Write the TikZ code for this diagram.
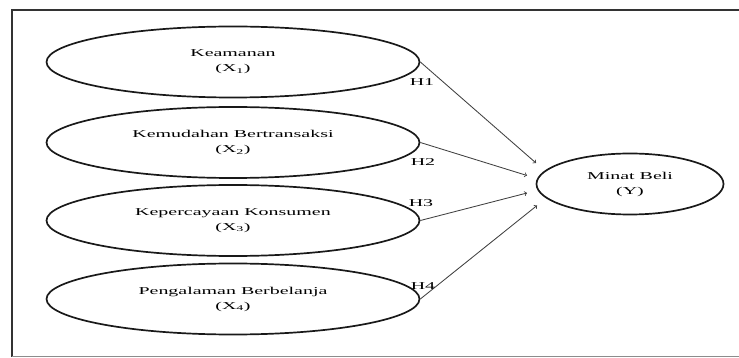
\documentclass[tikz,border=0pt]{standalone}
\usepackage{fontspec}
\setmainfont[FakeStretch=1.9]{Liberation Serif}
\usepackage{tikz}
\usetikzlibrary{shapes.geometric}
\tikzset{%
    variabel/.style={%
        ellipse, draw=black!90, line width=1.7pt, inner sep=0pt,
        minimum width=373pt, minimum height=71pt,
        align=center, text=black,
        font=\fontsize{10.5}{15}\selectfont
    },
    panah/.style={->, line width=0.85pt, draw=black!75},
    hipotesis/.style={inner sep=0pt, text=black,
        font=\fontsize{10.5}{12}\selectfont}
}

\begin{document}
\begin{tikzpicture}[x=1pt,y=-1pt]
    \useasboundingbox (0,0) rectangle (739,358);
    % bingkai
    \draw[line width=2.4pt,black!80] (745,10) -- (12,10) -- (12,357);
    \draw[line width=1.6pt,black!45] (12,356.5) -- (745,356.5);
    % variabel
    \node[variabel] (x1) at (233,62) {Keamanan\\(X\textsubscript{1})};
    \node[variabel] (x2) at (233,142.5) {Kemudahan Bertransaksi\\(X\textsubscript{2})};
    \node[variabel] (x3) at (233,220.5) {Kepercayaan Konsumen\\(X\textsubscript{3})};
    \node[variabel] (x4) at (233,299) {Pengalaman Berbelanja\\(X\textsubscript{4})};
    \node[variabel,minimum width=187pt,minimum height=61pt] (y) at (630,184) {Minat Beli\\(Y)};
    \coordinate (u1) at (536,163);
    \coordinate (u2) at (527,175.5);
    \coordinate (u3) at (527,193);
    \coordinate (u4) at (537,205.5);
    \draw[panah] (x1.east) -- (u1);
    \draw[panah] (x2.east) -- (u2);
    \draw[panah] (x3.east) -- (u3);
    \draw[panah] (x4.east) -- (u4);
    % label hipotesis
    \node[hipotesis] (h1) at (422,82) {H1};
    \node[hipotesis] (h2) at (423,162) {H2};
    \node[hipotesis] (h3) at (421,203) {H3};
    \node[hipotesis] (h4) at (423,286) {H4};
\end{tikzpicture}
\end{document}
